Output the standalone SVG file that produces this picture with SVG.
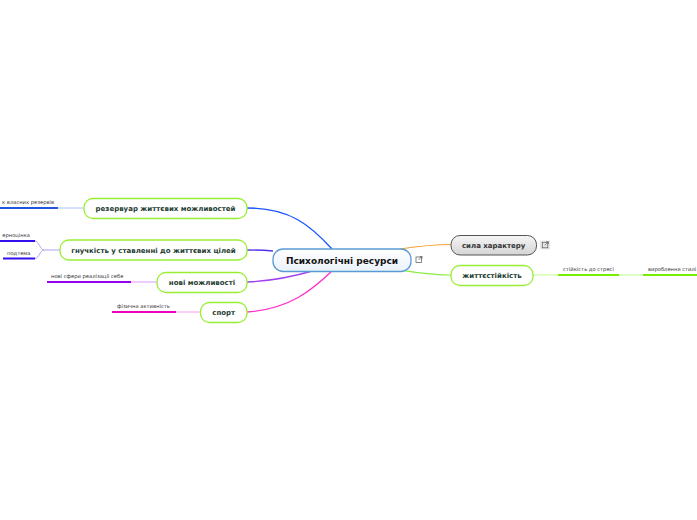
<svg xmlns="http://www.w3.org/2000/svg" width="697" height="520" viewBox="0 0 697 520">
<defs>
<style>
.node rect{fill:#fff;stroke:#99ee33;stroke-width:1.3}
.nt{font-family:"DejaVu Sans",Verdana,sans-serif;font-weight:bold;font-size:7px;fill:#1d3c31;text-anchor:middle}
.ct{font-family:"DejaVu Sans",Verdana,sans-serif;font-size:5.2px;fill:#333}
.conn path{fill:none}
</style>
<linearGradient id="cg" x1="0" y1="0" x2="0" y2="1"><stop offset="0" stop-color="#ffffff"/><stop offset="1" stop-color="#eaf2fa"/></linearGradient>
<linearGradient id="gg" x1="0" y1="0" x2="0" y2="1"><stop offset="0" stop-color="#f6f6f6"/><stop offset="1" stop-color="#d4d4d4"/></linearGradient>
<g id="ico"><rect x="0" y="0" width="5.5" height="5.5" fill="none" stroke="#666" stroke-width="0.8"/><path d="M2.5,3 L6,-0.5 M3.8,-0.5 H6 V1.7" fill="none" stroke="#666" stroke-width="0.8"/></g>
</defs>
<rect width="697" height="520" fill="#fff"/>
<g id="connectors" class="conn">
<path d="M332,249 C310,225 290,208 247,208" stroke="#1a56ff" stroke-width="1.4"/>
<path d="M273,251 C262,250 256,250 247,250" stroke="#5533ee" stroke-width="1.4"/>
<path d="M314,270.5 C292,277 272,281 247,282" stroke="#a040f0" stroke-width="1.4"/>
<path d="M332,271 C312,290 290,309 247,312" stroke="#ff33cc" stroke-width="1.4"/>
<path d="M400,249 C420,246 432,244.5 451,244.5" stroke="#f5a030" stroke-width="1.2"/>
<path d="M400,270 C420,273 432,275 451,275" stroke="#88ee44" stroke-width="1.2"/>
<path d="M84,208 H58" stroke="#a8c0ff" stroke-width="1"/>
<path d="M0,208 H58" stroke="#2255dd" stroke-width="2"/>
<path d="M60,250 H44 C40,250 39,241 35,241 M44,250 C40,250 39,258.5 35,258.5" stroke="#b0a0f0" stroke-width="1"/>
<path d="M0,241 H35 M3,258.5 H35" stroke="#3311ee" stroke-width="2"/>
<path d="M157,282 H131" stroke="#dd99ff" stroke-width="1"/>
<path d="M47,282 H131" stroke="#9900ee" stroke-width="2"/>
<path d="M201,312 H176" stroke="#ff99ee" stroke-width="1"/>
<path d="M112,312 H176" stroke="#ee00bb" stroke-width="2"/>
<path d="M533,275 H558 M619,275 H643" stroke="#bbff88" stroke-width="1"/>
<path d="M558,275 H619 M643,275 H697" stroke="#77ee00" stroke-width="2"/>
</g>
<g id="central">
<rect x="273" y="249" width="138" height="22.5" rx="10" fill="url(#cg)" stroke="#5b9bd5" stroke-width="1.3"/>
<text x="342" y="263.8" font-family="'DejaVu Sans',Verdana,sans-serif" font-weight="bold" font-size="9" fill="#111" text-anchor="middle">Психологічні ресурси</text>
<use href="#ico" x="416" y="257"/>
</g>
<g id="n1" class="node"><rect x="84" y="198.5" width="163" height="20" rx="9"/><text class="nt" x="165.5" y="211">резервуар життєвих можливостей</text></g>
<g id="n2" class="node"><rect x="60" y="240" width="187" height="20" rx="9"/><text class="nt" x="153.5" y="252.6">гнучкість у ставленні до життєвих цілей</text></g>
<g id="n3" class="node"><rect x="157" y="272.5" width="90" height="20" rx="9"/><text class="nt" x="202" y="285">нові можливості</text></g>
<g id="n4" class="node"><rect x="200.5" y="302.5" width="46.5" height="20" rx="9"/><text class="nt" x="223.7" y="315">спорт</text></g>
<g id="n5">
<rect x="451" y="235.5" width="85.5" height="19.5" rx="9" fill="url(#gg)" stroke="#555" stroke-width="1"/>
<text class="nt" x="493.7" y="247.8" style="fill:#333">сила характеру</text>
<rect x="540" y="240.5" width="10" height="9" fill="#e8e8e8"/>
<use href="#ico" x="542.3" y="242.3"/>
</g>
<g id="n6" class="node"><rect x="451" y="265.5" width="82" height="20" rx="9"/><text class="nt" x="492" y="278">життєстійкість</text></g>
<g id="c1"><text class="ct" x="54" y="204" text-anchor="end">к власних резервів</text></g>
<g id="c2a"><text class="ct" x="30" y="237" text-anchor="end">ерноцінка</text></g>
<g id="c2b"><text class="ct" x="7" y="254.5">подтема</text></g>
<g id="c3"><text class="ct" x="51" y="278">нові сфери реалізації себе</text></g>
<g id="c4"><text class="ct" x="117" y="308">фізична активність</text></g>
<g id="c6a"><text class="ct" x="563" y="271">стійкість до стресі</text></g>
<g id="c6b"><text class="ct" x="648" y="271">вироблення стилі</text></g>
</svg>
